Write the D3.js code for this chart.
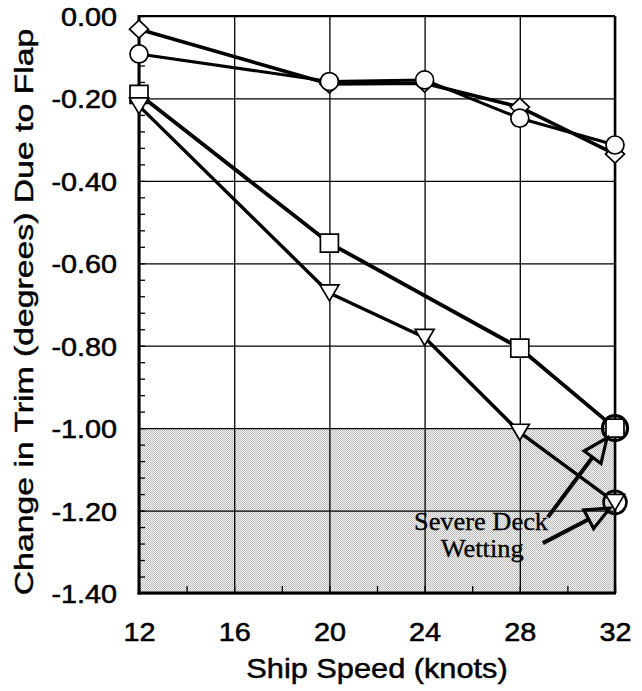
<!DOCTYPE html>
<html>
<head>
<meta charset="utf-8">
<script src="https://cdn.jsdelivr.net/npm/d3@7"></script>
<style>
  body { margin: 0; background: #fff; }
  svg { display: block; }
</style>
</head>
<body>
<svg id="chart" width="642" height="691"></svg>
<script>
// ---- data ----------------------------------------------------------
const xTicks = [12, 16, 20, 24, 28, 32];
const yTicks = [0, -0.2, -0.4, -0.6, -0.8, -1.0, -1.2, -1.4];

const diamondSpeed = [12, 20, 24, 28, 32];
const diamondTrim  = [-0.032, -0.165, -0.163, -0.221, -0.335];

const circleSpeed = [12, 20, 24, 28, 32];
const circleTrim  = [-0.092, -0.159, -0.155, -0.248, -0.313];

const squareSpeed = [12, 20, 28, 32];
const squareTrim  = [-0.19, -0.551, -0.806, -1.0];

const triangleSpeed = [12, 20, 24, 28, 32];
const triangleTrim  = [-0.218, -0.672, -0.78, -1.01, -1.18];

// severe deck wetting limit (shaded band) and flagged points
const wettingLimit = [-1.0, -1.4];
const flaggedSpeed = [32, 32];
const flaggedTrim  = [-1.0, -1.18];

// annotation: text lines and arrows (speed, trim)
const noteLines = ["Severe Deck", "Wetting"];
const notePos = [[26.37, -1.248], [26.42, -1.313]];
const arrowFrom = [[29.18, -1.216], [28.97, -1.279]];
const arrowTo   = [[31.66, -1.024], [31.79, -1.194]];

// ---- layout --------------------------------------------------------
const svg = d3.select("#chart");
const plot = { left: 139, right: 615, top: 16, bottom: 593 };
const x = d3.scaleLinear().domain([12, 32]).range([plot.left, plot.right]);
const y = d3.scaleLinear().domain([-1.4, 0]).range([plot.bottom, plot.top]);
const innerW = plot.right - plot.left;
const innerH = plot.bottom - plot.top;

// the lettering is set wide and slightly tall
const SX = 1.2, SY = 1.1;
const sans = "'Liberation Sans', Arial, Helvetica, sans-serif";
const serif = "'Liberation Serif', 'Times New Roman', serif";

// stippled fill for the shaded band
const defs = svg.append("defs");
const pat = defs.append("pattern")
  .attr("id", "stipple").attr("patternUnits", "userSpaceOnUse")
  .attr("width", 2).attr("height", 2);
pat.append("rect").attr("width", 2).attr("height", 2).attr("fill", "#f4f4f4");
pat.append("rect").attr("width", 1).attr("height", 1).attr("fill", "#b4b4b4");
pat.append("rect").attr("x", 1).attr("y", 1).attr("width", 1).attr("height", 1).attr("fill", "#c2c2c2");

svg.append("rect")
  .attr("x", x(12)).attr("y", y(wettingLimit[0]))
  .attr("width", x(32) - x(12))
  .attr("height", y(wettingLimit[1]) - y(wettingLimit[0]))
  .attr("fill", "url(#stipple)");

// grid
svg.append("g")
  .attr("transform", `translate(${plot.left},0)`)
  .call(d3.axisLeft(y).tickValues(yTicks).tickSize(-innerW).tickFormat(""))
  .call(g => g.select(".domain").remove())
  .call(g => g.selectAll("line").attr("stroke", "#000").attr("stroke-width", 1.3));

svg.append("g")
  .attr("transform", `translate(0,${plot.bottom})`)
  .call(d3.axisBottom(x).tickValues(xTicks).tickSize(-innerH).tickFormat(""))
  .call(g => g.select(".domain").remove())
  .call(g => g.selectAll("line").attr("stroke", "#000").attr("stroke-width", 1.3));

// minor ticks pointing inward
const yMinor = d3.range(0, 36).map(i => -i * 0.04).filter(v => v >= -1.4);
svg.append("g")
  .attr("transform", `translate(${plot.left},0)`)
  .call(d3.axisLeft(y).tickValues(yMinor).tickSize(-6).tickFormat(""))
  .call(g => g.select(".domain").remove())
  .call(g => g.selectAll("line").attr("stroke", "#000").attr("stroke-width", 1.3));

const xMinor = d3.range(12, 33, 2);
svg.append("g")
  .attr("transform", `translate(0,${plot.bottom})`)
  .call(d3.axisBottom(x).tickValues(xMinor).tickSize(-7).tickFormat(""))
  .call(g => g.select(".domain").remove())
  .call(g => g.selectAll("line").attr("stroke", "#000").attr("stroke-width", 1.3));

// frame
svg.append("line").attr("x1", plot.left).attr("x2", plot.right)
  .attr("y1", plot.top).attr("y2", plot.top)
  .attr("stroke", "#000").attr("stroke-width", 2);
svg.append("line").attr("x1", plot.right).attr("x2", plot.right)
  .attr("y1", plot.top).attr("y2", plot.bottom)
  .attr("stroke", "#000").attr("stroke-width", 2.5);
svg.append("line").attr("x1", plot.left).attr("x2", plot.left)
  .attr("y1", plot.top - 1).attr("y2", plot.bottom + 1.5)
  .attr("stroke", "#000").attr("stroke-width", 3);
svg.append("line").attr("x1", plot.left - 1.5).attr("x2", plot.right + 1)
  .attr("y1", plot.bottom).attr("y2", plot.bottom)
  .attr("stroke", "#000").attr("stroke-width", 3);

// tick labels
const yLab = svg.append("g")
  .attr("transform", `translate(${plot.left},0)`)
  .call(d3.axisLeft(y).tickValues(yTicks).tickSize(0).tickFormat(d => d.toFixed(2)));
yLab.select(".domain").remove();
yLab.selectAll("text")
  .attr("x", null).attr("dy", null)
  .attr("transform", `translate(-22,0) scale(${SX},${SY})`)
  .attr("dy", "0.36em")
  .style("font-family", sans).style("font-size", "24px")
  .attr("fill", "#000").attr("stroke", "#000").attr("stroke-width", 0.5);

const xLab = svg.append("g")
  .attr("transform", `translate(0,${plot.bottom})`)
  .call(d3.axisBottom(x).tickValues(xTicks).tickSize(0).tickFormat(d3.format("d")));
xLab.select(".domain").remove();
xLab.selectAll("text")
  .attr("y", null).attr("dy", null)
  .attr("transform", `translate(0,48) scale(${SX},${SY})`)
  .style("font-family", sans).style("font-size", "24px")
  .attr("fill", "#000").attr("stroke", "#000").attr("stroke-width", 0.5);

// axis titles
svg.append("text")
  .attr("transform", `translate(377,678) scale(1.23,1.11)`)
  .attr("text-anchor", "middle")
  .style("font-family", sans).style("font-size", "25px")
  .attr("stroke", "#000").attr("stroke-width", 0.45)
  .text("Ship Speed (knots)");

svg.append("text")
  .attr("transform", `translate(33,312) rotate(-90) scale(1.35,1)`)
  .attr("text-anchor", "middle")
  .style("font-family", sans).style("font-size", "25px")
  .attr("stroke", "#000").attr("stroke-width", 0.45)
  .text("Change in Trim (degrees) Due to Flap");

// series lines
const line = d3.line().x(d => x(d[0])).y(d => y(d[1]));
const zip = (a, b) => a.map((v, i) => [v, b[i]]);

const series = [
  { pts: zip(diamondSpeed, diamondTrim), shape: "diamond", w: 3.6 },
  { pts: zip(circleSpeed, circleTrim), shape: "circle", w: 3.0 },
  { pts: zip(squareSpeed, squareTrim), shape: "square", w: 3.8 },
  { pts: zip(triangleSpeed, triangleTrim), shape: "triangle", w: 3.4 }
];

series.forEach(s => {
  svg.append("path").datum(s.pts)
    .attr("d", line)
    .attr("fill", "none").attr("stroke", "#000")
    .attr("stroke-width", s.w).attr("stroke-linejoin", "round");
});

// markers
const shapes = {
  diamond: "M0,-9L9.5,0L0,9L-9.5,0Z",
  square: "M-9,-9H9V9H-9Z",
  triangle: "M-9.5,-8H9.5L0,8Z"
};
series.forEach(s => {
  const g = svg.append("g");
  if (s.shape === "circle") {
    g.selectAll("circle").data(s.pts).join("circle")
      .attr("cx", d => x(d[0])).attr("cy", d => y(d[1])).attr("r", 9)
      .attr("fill", "#fff").attr("stroke", "#000").attr("stroke-width", 1.7);
  } else {
    g.selectAll("path").data(s.pts).join("path")
      .attr("transform", d => `translate(${x(d[0])},${y(d[1])})`)
      .attr("d", shapes[s.shape])
      .attr("fill", "#fff").attr("stroke", "#000").attr("stroke-width", 1.7);
  }
});

// rings around the points that reach severe deck wetting
svg.append("g").selectAll("circle")
  .data(zip(flaggedSpeed, flaggedTrim)).join("circle")
  .attr("cx", d => x(d[0])).attr("cy", d => y(d[1]))
  .attr("r", (d, i) => i === 0 ? 12.5 : 11.5)
  .attr("fill", "none").attr("stroke", "#000")
  .attr("stroke-width", (d, i) => i === 0 ? 3.2 : 2.6);

// arrows with open heads
arrowFrom.forEach((f, i) => {
  const x0 = x(f[0]), y0 = y(f[1]);
  const x1 = x(arrowTo[i][0]), y1 = y(arrowTo[i][1]);
  const ang = Math.atan2(y1 - y0, x1 - x0);
  const len = 24, half = 10.5;
  const bx = x1 - len * Math.cos(ang), by = y1 - len * Math.sin(ang);
  const px = -Math.sin(ang) * half, py = Math.cos(ang) * half;
  svg.append("line")
    .attr("x1", x0).attr("y1", y0).attr("x2", bx).attr("y2", by)
    .attr("stroke", "#000").attr("stroke-width", 4);
  svg.append("path")
    .attr("d", `M${x1},${y1}L${bx + px},${by + py}L${bx - px},${by - py}Z`)
    .attr("fill", "none").attr("stroke", "#000")
    .attr("stroke-width", 3.2).attr("stroke-linejoin", "miter");
});

// annotation text
noteLines.forEach((t, i) => {
  svg.append("text")
    .attr("transform", `translate(${x(notePos[i][0])},${y(notePos[i][1])}) scale(${SX},${SY})`)
    .attr("text-anchor", "middle")
    .style("font-family", serif).style("font-size", "22px")
    .attr("stroke", "#000").attr("stroke-width", 0.3)
    .text(t);
});
</script>
</body>
</html>
